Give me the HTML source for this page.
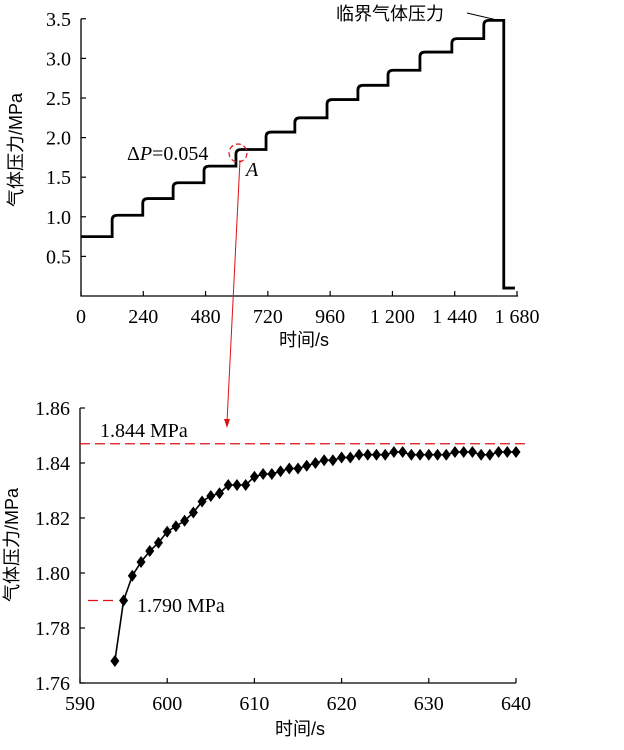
<!DOCTYPE html>
<html><head><meta charset="utf-8"><style>
html,body{margin:0;padding:0;background:#fff;}
svg text{font-family:"Liberation Serif","Noto Serif CJK SC",serif;fill:#000;}
.cn{font-family:"Liberation Sans","Noto Sans CJK SC",sans-serif;}
</style></head><body>
<svg id="svg" width="624" height="745" viewBox="0 0 624 745" xmlns="http://www.w3.org/2000/svg">
<g id="top"></g>
<g id="bot"></g>
</svg>
<script>
// ---- top chart data ----
const stepTimes = [0,120,238,355,474,597,713,824,948,1067,1183,1306,1429,1552,1629];
const stepLevels = [0.75,1.02,1.23,1.43,1.64,1.85,2.07,2.25,2.48,2.66,2.85,3.08,3.25,3.48,0.10];
const endTime = 1672;
const topXTicks = [0,240,480,720,960,1200,1440,1680];
const topXLabels = ["0","240","480","720","960","1 200","1 440","1 680"];
const topYTicks = [0.5,1.0,1.5,2.0,2.5,3.0,3.5];
const topYLabels = ["0.5","1.0","1.5","2.0","2.5","3.0","3.5"];
// ---- bottom chart data ----
const detailTimes = [594,595,596,597,598,599,600,601,602,603,604,605,606,607,608,609,610,611,612,613,614,615,616,617,618,619,620,621,622,623,624,625,626,627,628,629,630,631,632,633,634,635,636,637,638,639,640];
const detailValues = [1.768,1.790,1.799,1.804,1.808,1.811,1.815,1.817,1.819,1.822,1.826,1.828,1.829,1.832,1.832,1.832,1.835,1.836,1.836,1.837,1.838,1.838,1.839,1.840,1.841,1.841,1.842,1.842,1.843,1.843,1.843,1.843,1.844,1.844,1.843,1.843,1.843,1.843,1.843,1.844,1.844,1.844,1.843,1.843,1.844,1.844,1.844];
const botXTicks = [590,600,610,620,630,640];
const botYTicks = [1.76,1.78,1.80,1.82,1.84,1.86];
const botYLabels = ["1.76","1.78","1.80","1.82","1.84","1.86"];
const refHigh = 1.847, refLow = 1.790;

const NS="http://www.w3.org/2000/svg";
function mk(p,tag,at,txt){const e=document.createElementNS(NS,tag);for(const k in at)e.setAttribute(k,at[k]);if(txt!=null)e.textContent=txt;p.appendChild(e);return e;}

// top axes
const tx=t=>81+t*(436/1680);
const ty=v=>296-v*79.2;
const T=document.getElementById('top');
let a=mk(T,'path',{d:`M81,${ty(3.5)} V296 H518`,stroke:'#000','stroke-width':1.3,fill:'none'});


topXTicks.forEach((v,i)=>{
  mk(T,'line',{x1:tx(v),x2:tx(v),y1:296,y2:291,stroke:'#000','stroke-width':1.2});
  const l=mk(T,'text',{x:tx(v),y:323,'font-size':20,'text-anchor':'middle'},topXLabels[i]);
  
  
});
topYTicks.forEach((v,i)=>{
  mk(T,'line',{x1:81,x2:86,y1:ty(v),y2:ty(v),stroke:'#000','stroke-width':1.2});
  const l=mk(T,'text',{x:71,y:ty(v)+7,'font-size':20,'text-anchor':'end'},topYLabels[i]);
  
  
});
// step series
let d=`M${tx(stepTimes[0])},${ty(stepLevels[0])}`;
for(let i=1;i<stepTimes.length;i++){
  const t=stepTimes[i],v=stepLevels[i],pv=stepLevels[i-1];
  d+=` L${tx(t)},${ty(pv)}`;
  if(v>pv){
    d+=` L${tx(t)},${ty(v-0.06)} Q${tx(t)},${ty(v)} ${tx(t+20)},${ty(v)}`;
  } else {
    d+=` L${tx(t)},${ty(v)}`;
  }
}
d+=` L${tx(endTime)},${ty(stepLevels[stepLevels.length-1])}`;
const s=mk(T,'path',{d:d,stroke:'#000','stroke-width':2.8,fill:'none'});


let t1=mk(T,'text',{x:22,y:150,'font-size':18,'text-anchor':'middle',class:'cn',transform:'rotate(-90 22 150)'},'气体压力/MPa');


let t2=mk(T,'text',{x:304,y:346,'font-size':18,'text-anchor':'middle',class:'cn'},'时间/s');


let t3=mk(T,'text',{x:336,y:20,'font-size':18,class:'cn'},'临界气体压力');


mk(T,'line',{x1:467,y1:13,x2:497,y2:20,stroke:'#000','stroke-width':1});
let t4=mk(T,'text',{x:127,y:160,'font-size':20},'');
t4.innerHTML='Δ<tspan font-style="italic">P</tspan>=0.054';


let c=mk(T,'circle',{cx:238,cy:153,r:9,fill:'none',stroke:'#d11','stroke-width':1.2,'stroke-dasharray':'5,3'});


let t5=mk(T,'text',{x:246,y:176,'font-size':20,'font-style':'italic'},'A');


let ar=mk(T,'line',{x1:240,y1:160,x2:227,y2:422,stroke:'#d11','stroke-width':1});


mk(T,'path',{d:'M224,419 L227,428 L230,419 Z',fill:'#d11'});

// bottom chart
const bx=t=>80+(t-590)*8.72;
const by=v=>683-(v-1.76)*2750;
const B=document.getElementById('bot');
let ba=mk(B,'path',{d:`M80,${by(1.86)} V683 H516`,stroke:'#000','stroke-width':1.3,fill:'none'});


botXTicks.forEach(v=>{
  mk(B,'line',{x1:bx(v),x2:bx(v),y1:683,y2:678,stroke:'#000','stroke-width':1.2});
  const l=mk(B,'text',{x:bx(v),y:710,'font-size':20,'text-anchor':'middle'},String(v));
  
  
});
botYTicks.forEach((v,i)=>{
  mk(B,'line',{x1:80,x2:85,y1:by(v),y2:by(v),stroke:'#000','stroke-width':1.2});
  const l=mk(B,'text',{x:70,y:by(v)+7,'font-size':20,'text-anchor':'end'},botYLabels[i]);
  
  
});
let h1=mk(B,'line',{x1:80,x2:528,y1:by(refHigh),y2:by(refHigh),stroke:'#d11','stroke-width':1.2,'stroke-dasharray':'10,5'});


let h2=mk(B,'line',{x1:88,x2:118,y1:by(refLow),y2:by(refLow),stroke:'#d11','stroke-width':1.2,'stroke-dasharray':'10,5'});


let l1=mk(B,'text',{x:100,y:437,'font-size':20},'1.844 MPa');


let l2=mk(B,'text',{x:137,y:612,'font-size':20},'1.790 MPa');


const pl=mk(B,'polyline',{points:detailTimes.map((t,i)=>`${bx(t)},${by(detailValues[i])}`).join(' '),stroke:'#000','stroke-width':1.6,fill:'none'});


detailTimes.forEach((t,i)=>{
  const x=bx(t),y=by(detailValues[i]);
  const m=mk(B,'path',{d:`M${x},${y-6} L${x+4.5},${y} L${x},${y+6} L${x-4.5},${y} Z`,fill:'#000'});
  
  
});
let b1=mk(B,'text',{x:18,y:545,'font-size':18,'text-anchor':'middle',class:'cn',transform:'rotate(-90 18 545)'},'气体压力/MPa');


let b2=mk(B,'text',{x:300,y:735,'font-size':18,'text-anchor':'middle',class:'cn'},'时间/s');


</script>
</body></html>
